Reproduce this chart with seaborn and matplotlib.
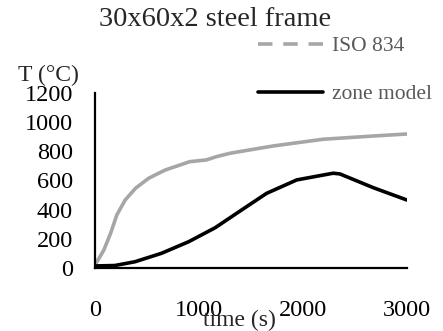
import matplotlib
matplotlib.use("Agg")
import numpy as np
import pandas as pd
import seaborn as sns
from matplotlib import pyplot as plt
from matplotlib.lines import Line2D

# values
iso_time = [0, 85, 150, 210, 290, 390, 515, 675, 820, 910, 1070, 1170, 1300, 1490, 1715, 2195, 2675, 3000]
iso_temp = [20, 123, 238, 364, 466, 547, 615, 672, 707, 729, 741, 764, 787, 810, 837, 883, 905, 919]

zone_time = [0, 190, 385, 640, 900, 1155, 1410, 1650, 1940, 2290, 2355, 2675, 3000]
zone_temp = [14, 17, 43, 101, 180, 276, 398, 512, 604, 650, 645, 551, 466]

series_names = ["ISO 834", "zone model"]
series_colors = ["#a6a6a6", "#000000"]

df = pd.concat([
	pd.DataFrame({"time": iso_time, "T": iso_temp, "series": series_names[0]}),
	pd.DataFrame({"time": zone_time, "T": zone_temp, "series": series_names[1]}),
])

sns.set_theme(style="white")
plt.rcParams["font.family"] = ["Liberation Serif", "DejaVu Serif"]

fig = plt.figure(figsize=(4.43, 3.31), dpi=100)
ax = fig.add_axes([95 / 443, 1 - 268 / 331, 312 / 443, 175 / 331])

sns.lineplot(data=df, x="time", y="T", hue="series", palette=series_colors,
			 linewidth=2.6, ax=ax, legend=False, sort=False)
for ln in ax.get_lines():
	ln.set_solid_joinstyle("round")

ax.set_xlim(0, 3000)
ax.set_ylim(0, 1200)
ax.set_xticks([0, 1000, 2000, 3000])
ax.set_yticks(range(0, 1201, 200))
ax.tick_params(axis="both", length=0, labelsize=17.5, colors="black")
ax.tick_params(axis="x", pad=23)
ax.tick_params(axis="y", pad=16)

for side in ["top", "right"]:
	ax.spines[side].set_visible(False)
for side in ["left", "bottom"]:
	ax.spines[side].set_color("black")
	ax.spines[side].set_linewidth(1.6)

ax.set_xlabel("time (s)", fontsize=17, va="center")
ax.xaxis.set_label_coords((239 - 95) / 312, (268 - 320) / 175)
ax.set_ylabel("T (°C)", fontsize=17, rotation=0, ha="center", va="center")
ax.yaxis.set_label_coords((48 - 95) / 312, (268 - 75) / 175)

fig.text(215 / 443, 1 - 20 / 331, "30x60x2 steel frame", ha="center", va="center",
		 fontsize=20.5)

handles = [
	Line2D([], [], color=series_colors[0], linewidth=2.6, dashes=(4, 3)),
	Line2D([], [], color=series_colors[1], linewidth=2.6),
]
leg = fig.legend(handles, series_names, loc="upper left",
				 bbox_to_anchor=(258 / 443, 1 - 36 / 331), frameon=False,
				 fontsize=15.5, handlelength=3.0, handletextpad=0.45,
				 labelspacing=1.3, borderpad=0, borderaxespad=0)
for t in leg.get_texts():
	t.set_color("#595959")

fig.savefig("out.png", dpi=100)
